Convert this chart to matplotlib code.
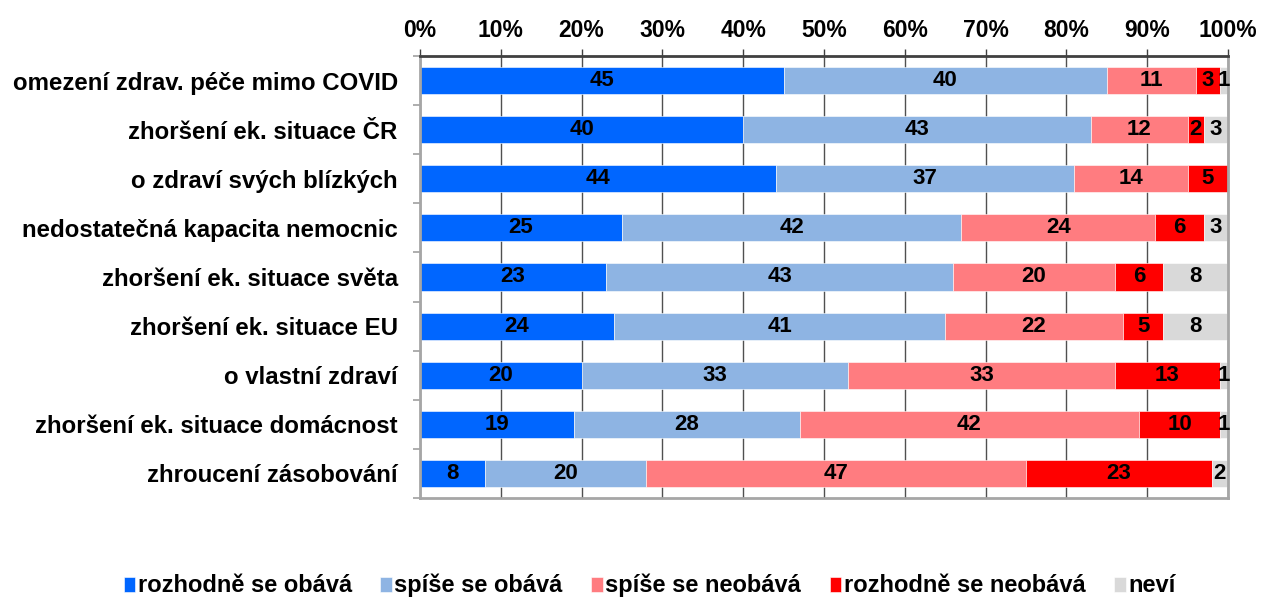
import numpy as np
from matplotlib import pyplot as plt

plt.rcParams['font.family'] = ['Liberation Sans', 'DejaVu Sans']
plt.rcParams['font.weight'] = 'bold'

# kategorie (odshora dolů)
kategorie = ['omezení zdrav. péče mimo COVID',
             'zhoršení ek. situace ČR',
             'o zdraví svých blízkých',
             'nedostatečná kapacita nemocnic',
             'zhoršení ek. situace světa',
             'zhoršení ek. situace EU',
             'o vlastní zdraví',
             'zhoršení ek. situace domácnost',
             'zhroucení zásobování']

rozhodne_obava = [45, 40, 44, 25, 23, 24, 20, 19, 8]
spise_obava = [40, 43, 37, 42, 43, 41, 33, 28, 20]
spise_neobava = [11, 12, 14, 24, 20, 22, 33, 42, 47]
rozhodne_neobava = [3, 2, 5, 6, 6, 5, 13, 10, 23]
nevi = [1, 3, 0, 3, 8, 8, 1, 1, 2]

nazvy_rad = ['rozhodně se obává', 'spíše se obává', 'spíše se neobává',
             'rozhodně se neobává', 'neví']
barvy = ['#0066FF', '#8EB4E3', '#FF7C80', '#FF0000', '#D9D9D9']

rady = [rozhodne_obava, spise_obava, spise_neobava, rozhodne_neobava, nevi]

fig = plt.figure(figsize=(12.61, 6), dpi=100)
ax = fig.add_axes([420 / 1261, 1 - 498 / 600, 808 / 1261, 442 / 600])

y = np.arange(len(kategorie))
left = np.zeros(len(kategorie))
for hodnoty, nazev, barva in zip(rady, nazvy_rad, barvy):
    hodnoty = np.array(hodnoty, dtype=float)
    ax.barh(y, hodnoty, left=left, height=0.55, color=barva,
            label=nazev, edgecolor='white', linewidth=0.4, zorder=2)
    # popisky uvnitř segmentů
    for xi, yi, v in zip(left, y, hodnoty):
        if v > 0:
            ax.text(xi + v / 2, yi, '%d' % v, ha='center', va='center',
                    fontsize=16, fontweight='bold', color='black', zorder=3)
    left += hodnoty

ax.set_xlim(0, 100)
ax.set_ylim(len(kategorie) - 0.5, -0.5)

# osa x nahoře
ax.xaxis.tick_top()
ax.set_xticks(np.arange(0, 101, 10))
ax.set_xticklabels(['%d%%' % v for v in range(0, 101, 10)])
ax.tick_params(axis='x', direction='out', length=5, width=1, color='#404040',
               pad=5, labelsize=16.5)
ax.xaxis.grid(True, color='#505050', linewidth=1)
ax.set_axisbelow(True)

# osa y
ax.set_yticks(y)
ax.set_yticklabels(kategorie)
ax.set_yticks(np.arange(-0.5, len(kategorie)), minor=True)
ax.tick_params(axis='y', which='major', length=0, pad=16, labelsize=17.3)
ax.tick_params(axis='y', which='minor', length=5, width=1.2, color='#A0A0A0',
               direction='out')

for s in ['left', 'right', 'bottom']:
    ax.spines[s].set_color('#A6A6A6')
    ax.spines[s].set_linewidth(2)
ax.spines['top'].set_color('#404040')
ax.spines['top'].set_linewidth(2)

fig.legend(loc='center', bbox_to_anchor=(0.515, 0.024), ncol=5, frameon=False,
           fontsize=17, handlelength=0.5, handleheight=0.6, handletextpad=0.1,
           columnspacing=1.2)

plt.savefig('out.png', dpi=100)
